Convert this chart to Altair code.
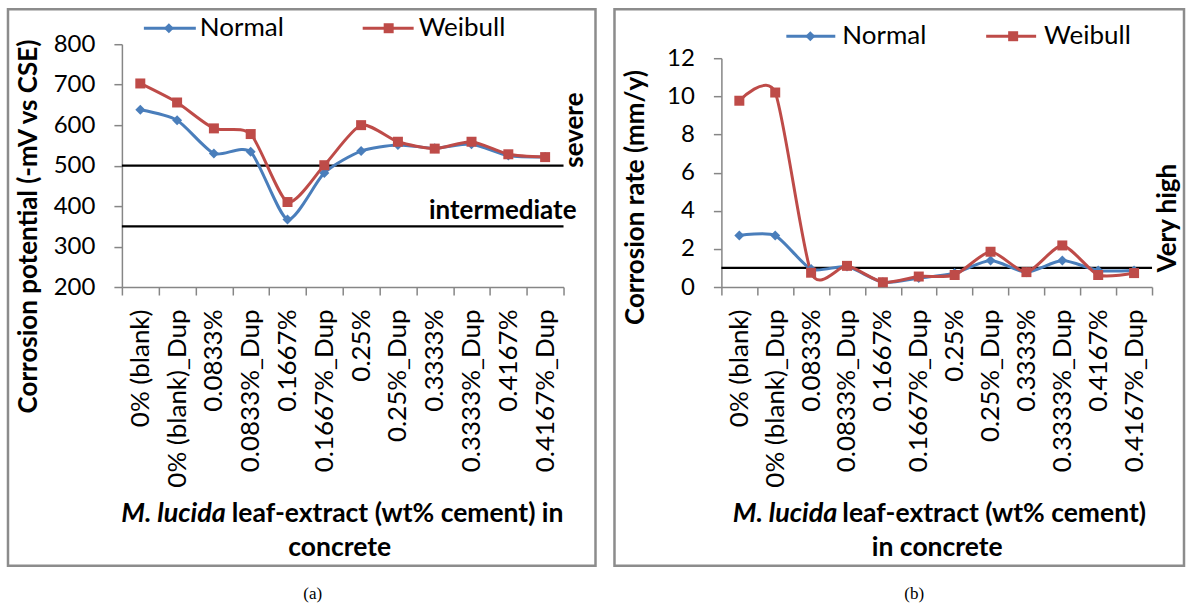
import altair as alt
import pandas as pd

categories = ["0% (blank)", "0% (blank)_Dup", "0.0833%", "0.0833%_Dup", "0.1667%",
              "0.1667%_Dup", "0.25%", "0.25%_Dup", "0.3333%", "0.3333%_Dup",
              "0.4167%", "0.4167%_Dup"]
series_names = ["Normal", "Weibull"]
series_colors = ["#4A7EBB", "#BE4B48"]
series_shapes = ["diamond", "square"]

potential_normal = [638, 612, 530, 534, 367, 482, 536, 551, 543, 553, 525, 521]
potential_weibull = [703, 656, 592, 578, 410, 501, 600, 559, 542, 559, 528, 521]
potential_ticks = [200, 300, 400, 500, 600, 700, 800]

rate_normal = [2.70, 2.70, 0.94, 1.07, 0.25, 0.47, 0.73, 1.39, 0.78, 1.39, 0.87, 0.87]
rate_weibull = [9.77, 10.2, 0.75, 1.11, 0.25, 0.55, 0.63, 1.85, 0.78, 2.18, 0.63, 0.73]
rate_ticks = [0, 2, 4, 6, 8, 10, 12]

FONT = "Lato"
AXIS_GREY = "#868686"
H = 243


def long_df(a, b):
    rows = []
    for name, vals in zip(series_names, [a, b]):
        for c, v in zip(categories, vals):
            rows.append({"category": c, "value": v, "series": name})
    return pd.DataFrame(rows)


one = pd.DataFrame({"k": [0]})


def text_layer(txt, x, y, size=26, bold=True, italic=False, align="center", angle=0,
               font=FONT, color="black"):
    kw = dict(font=font, fontSize=size, fontWeight="bold" if bold else "normal",
              align=align, baseline="middle", color=color)
    if italic:
        kw["fontStyle"] = "italic"
    if angle:
        kw["angle"] = angle
    return alt.Chart(one).mark_text(**kw).encode(
        x=alt.value(x), y=alt.value(y), text=alt.value(txt))


def panel(a, b, width, yscale, yticks, ytitle, tx, ty, refs, ref_texts, legend,
          frame, xt_italic_x, xt_rest, xt_rest_x, xt_line2, xt_line2_x, caption, cap_x):
    df = long_df(a, b)
    x = alt.X("category:N", sort=categories,
              scale=alt.Scale(type="band", paddingInner=0, paddingOuter=0),
              axis=alt.Axis(title=None, labelAngle=-90, labelAlign="right",
                            labelBaseline="middle", labelFont=FONT, labelFontSize=26,
                            labelColor="black", tickBand="extent", tickSize=8,
                            labelPadding=14, labelLimit=400))
    y = alt.Y("value:Q", scale=yscale,
              axis=alt.Axis(values=yticks, grid=False, title=ytitle, titleFont=FONT,
                            titleFontSize=26, titleFontWeight="bold", titleColor="black",
                            titleX=tx, titleY=ty, titleAngle=270, titleAlign="center",
                            titleBaseline="middle", labelFont=FONT, labelFontSize=24,
                            labelColor="black", tickSize=8, labelPadding=19))
    color = alt.Color("series:N", scale=alt.Scale(domain=series_names, range=series_colors),
                      legend=None)
    shape = alt.Shape("series:N", scale=alt.Scale(domain=series_names, range=series_shapes),
                      legend=None)
    base = alt.Chart(df)
    lines = base.mark_line(interpolate="cardinal", tension=0.3, strokeWidth=3).encode(
        x=x, y=y, color=color, detail="series:N")
    pts = base.mark_point(filled=True, size=100, opacity=1).encode(
        x=x, y=y, color=color, shape=shape)
    layers = []
    # frame
    layers.append(alt.Chart(one).mark_rect(fillOpacity=0, stroke="#8C8C8C", strokeWidth=2.5)
                  .encode(x=alt.value(frame[0]), x2=alt.value(frame[1]),
                          y=alt.value(frame[2]), y2=alt.value(frame[3])))
    for v in refs:
        layers.append(alt.Chart(one).mark_rule(color="black", strokeWidth=2.2)
                      .encode(y=alt.datum(v)))
    layers += [lines, pts]
    for (txt, tx_, ty_, ang, al) in ref_texts:
        layers.append(text_layer(txt, tx_, ty_, angle=ang, align=al))
    # legend
    for i, name in enumerate(series_names):
        x1, x2, xm, xt, yl = legend[i]
        layers.append(alt.Chart(one).mark_rule(color=series_colors[i], strokeWidth=3)
                      .encode(x=alt.value(x1), x2=alt.value(x2), y=alt.value(yl)))
        layers.append(alt.Chart(one).mark_point(shape=series_shapes[i], filled=True,
                                                size=100, opacity=1, color=series_colors[i])
                      .encode(x=alt.value(xm), y=alt.value(yl)))
        layers.append(text_layer(name, xt, yl, bold=False, align="left"))
    # x-axis title (two lines, italic species name)
    layers.append(text_layer("M. lucida", xt_italic_x, 470, size=27, italic=True,
                             align="right"))
    layers.append(text_layer(xt_rest, xt_rest_x, 470, size=26.5, align="right"))
    layers.append(text_layer(xt_line2, xt_line2_x, 504, size=26.5))
    layers.append(text_layer(caption, cap_x, 550, size=17, bold=False,
                             font="Liberation Serif"))
    return alt.layer(*layers).properties(width=width, height=H)


pa = panel(potential_normal, potential_weibull, 442,
           alt.Scale(domain=[200, 800], nice=False, zero=False), potential_ticks,
           "Corrosion potential (-mV vs CSE)", -93, 182,
           [500, 350],
           [("severe", 453, 86, 270, "center"), ("intermediate", 455, 167, 0, "right")],
           [(22, 74, 47, 78, -16), (241, 292, 267, 297, -16)],
           (-114, 474, -35, 522),
           104, "leaf-extract (wt% cement) in", 442, "concrete", 218, "(a)", 191)

pb = panel(rate_normal, rate_weibull, 431,
           alt.Scale(domain=[0, 12], range=[243, 14], nice=False), rate_ticks,
           "Corrosion rate (mm/y)", -86, 153,
           [1],
           [("Very high", 447, 174, 270, "center")],
           [(65, 114, 89, 121, -8), (265, 315, 292, 323, -8)],
           (-107, 463, -35, 522),
           116, "leaf-extract (wt% cement)", 425, "in concrete", 216, "(b)", 193)

chart = alt.hconcat(pa, pb, spacing=158, bounds="flush").properties(
    padding={"left": 6, "top": 7, "right": 1, "bottom": 2},
    background="white",
).configure_view(stroke=None).configure_axis(
    domainColor=AXIS_GREY, tickColor=AXIS_GREY, domainWidth=1.5, tickWidth=1.5)

chart.save("out.html", embed_options={"renderer": "svg", "actions": False})
